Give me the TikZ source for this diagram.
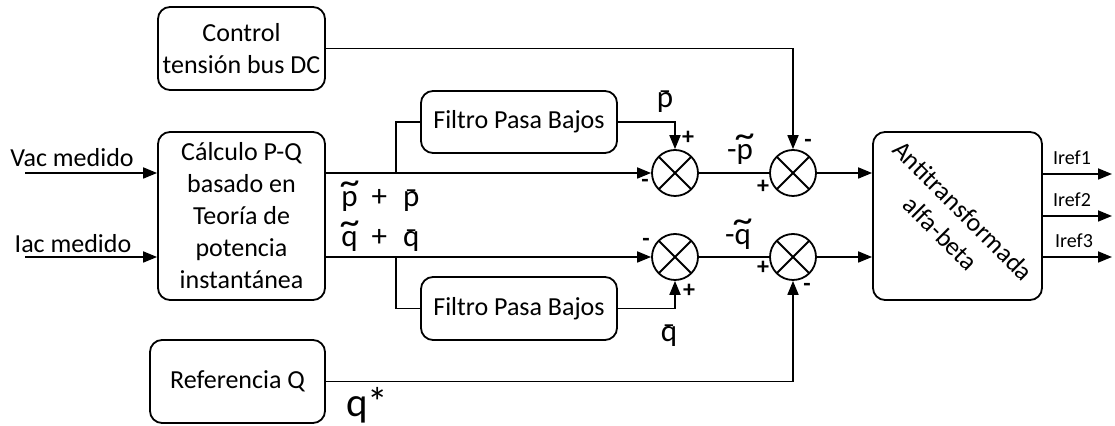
\documentclass[tikz,border=0pt]{standalone}
\usepackage{fontspec}
\setmainfont{Carlito}
\usetikzlibrary{arrows.meta,positioning,calc}

% acentos sobre p y q
\newcommand\sigtil[1]{{\ooalign{#1\cr\hidewidth\raisebox{0.4em}{\scalebox{1.3}[1.2]{\char"7E}}\hidewidth\cr}}}
\newcommand\sigbar[1]{{\ooalign{#1\cr\hidewidth\raisebox{-0.08em}{\char"AF}\hidewidth\cr}}}

\begin{document}
\begin{tikzpicture}[
      x=0.5pt, y=-0.5pt,
      font=\fontsize{13}{16}\selectfont,
      block/.style={draw, rounded corners=6pt, align=center, line width=0.9pt,
                    inner sep=1pt},
      sumnode/.style={draw, circle, minimum size=23pt, inner sep=0pt, line width=0.9pt,
                      path picture={\draw[line width=0.9pt]
                        (path picture bounding box.north west) -- (path picture bounding box.south east)
                        (path picture bounding box.north east) -- (path picture bounding box.south west);}},
      sig/.style={inner sep=0pt, anchor=base, font=\fontsize{15.5}{15.5}\selectfont},
      sgn/.style={inner sep=0pt, font=\fontsize{12}{12}\selectfont\bfseries},
      inlbl/.style={inner sep=0pt, anchor=base},
      outlbl/.style={inner sep=0pt, anchor=base, font=\fontsize{10}{10}\selectfont},
      >={Triangle[length=7pt,width=5.5pt]}]

    \useasboundingbox (0,0) rectangle (1115,426);

    % bloques
    \node[block, minimum width=83.5pt, minimum height=41.5pt] (ctrl) at (241.5,48.5)
      {Control\\tensión bus DC};
    \node[block, minimum width=83.5pt, minimum height=84pt] (calc) at (241.5,216)
      {Cálculo P-Q\\basado en\\Teoría de\\potencia\\instantánea};
    \node[block, minimum width=87.5pt, minimum height=41.5pt] (refq) at (237.5,381.5)
      {Referencia Q};
    \node[block, minimum width=98pt, minimum height=31pt] (filtp) at (519,122)
      {Filtro Pasa Bajos};
    \node[block, minimum width=98pt, minimum height=31.5pt] (filtq) at (519,308.5)
      {Filtro Pasa Bajos};
    \node[block, minimum width=84.5pt, minimum height=84pt] (anti) at (957.5,216) {};
    \node[rotate=-45, align=center, inner sep=0pt] (antitxt) at (952,222)
      {Antitransformada\\alfa-beta};

    % sumadores
    \node[sumnode] (sp1) at (675,173) {};
    \node[sumnode] (sp2) at (793,173) {};
    \node[sumnode] (sq1) at (675,257) {};
    \node[sumnode] (sq2) at (793,257) {};

    % entradas
    \coordinate (vac) at (25,173);
    \coordinate (iac) at (25,257);
    \node[inlbl] (vaclbl) at (72,167) {Vac medido};
    \node[inlbl] (iaclbl) at (73,253) {Iac medido};
    \draw[->, line width=0.9pt] (vac) -- (calc.west |- vac);
    \draw[->, line width=0.9pt] (iac) -- (calc.west |- iac);

    % rama p
    \coordinate (pout) at (calc.east |- sp1);
    \coordinate (pbr) at (396,173);
    \draw[->, line width=0.9pt] (pout) -- (sp1.west);
    \draw[line width=0.9pt] (pbr) |- (filtp.west);
    \draw[->, line width=0.9pt] (filtp.east) -| (sp1.north);
    \draw[line width=0.9pt] (sp1.east) -- (sp2.west);
    \draw[->, line width=0.9pt] (ctrl.east) -| (sp2.north);
    \draw[->, line width=0.9pt] (sp2.east) -- (anti.west |- sp2);

    % rama q
    \coordinate (qout) at (calc.east |- sq1);
    \coordinate (qbr) at (396,257);
    \draw[->, line width=0.9pt] (qout) -- (sq1.west);
    \draw[line width=0.9pt] (qbr) |- (filtq.west);
    \draw[->, line width=0.9pt] (filtq.east) -| (sq1.south);
    \draw[line width=0.9pt] (sq1.east) -- (sq2.west);
    \draw[->, line width=0.9pt] (refq.east) -| (sq2.south);
    \draw[->, line width=0.9pt] (sq2.east) -- (anti.west |- sq2);

    % salidas
    \coordinate (ir1) at (1112,174);
    \coordinate (ir2) at (1112,216);
    \coordinate (ir3) at (1112,257);
    \foreach \i in {1,2,3}
      \draw[->, line width=0.9pt] (anti.east |- ir\i) -- (ir\i);
    \node[outlbl] (ir1lbl) at (1072,165) {Iref1};
    \node[outlbl] (ir2lbl) at (1072,207) {Iref2};
    \node[outlbl] (ir3lbl) at (1074,248) {Iref3};

    % senales
    \node[sig, anchor=base west] (pqlbl) at (341,207)
      {\sigtil{p}\hspace{7pt}+\hspace{8pt}\sigbar{p}};
    \node[sig, anchor=base west] (qqlbl) at (341,247)
      {\sigtil{q}\hspace{7pt}+\hspace{8pt}\sigbar{q}};
    \node[sig] (pbar) at (665,108) {\sigbar{p}};
    \node[sig] (qbar) at (669,342) {\sigbar{q}};
    \node[sig] (ptil) at (740,160) {-\sigtil{p}};
    \node[sig] (qtil) at (738,245) {-\sigtil{q}};
    \node[inner sep=0pt, anchor=base, font=\fontsize{20.5}{20.5}\selectfont] (qstar) at (367,417) {q*};

    % signos
    \node[sgn] at (688,138) {+};
    \node[sgn] at (645,183) {-};
    \node[sgn] at (763,187) {+};
    \node[sgn] at (808,143) {-};
    \node[sgn] at (646,242) {-};
    \node[sgn] at (689,291) {+};
    \node[sgn] at (763,268) {+};
    \node[sgn] at (807,287) {-};
  \end{tikzpicture}
\end{document}
